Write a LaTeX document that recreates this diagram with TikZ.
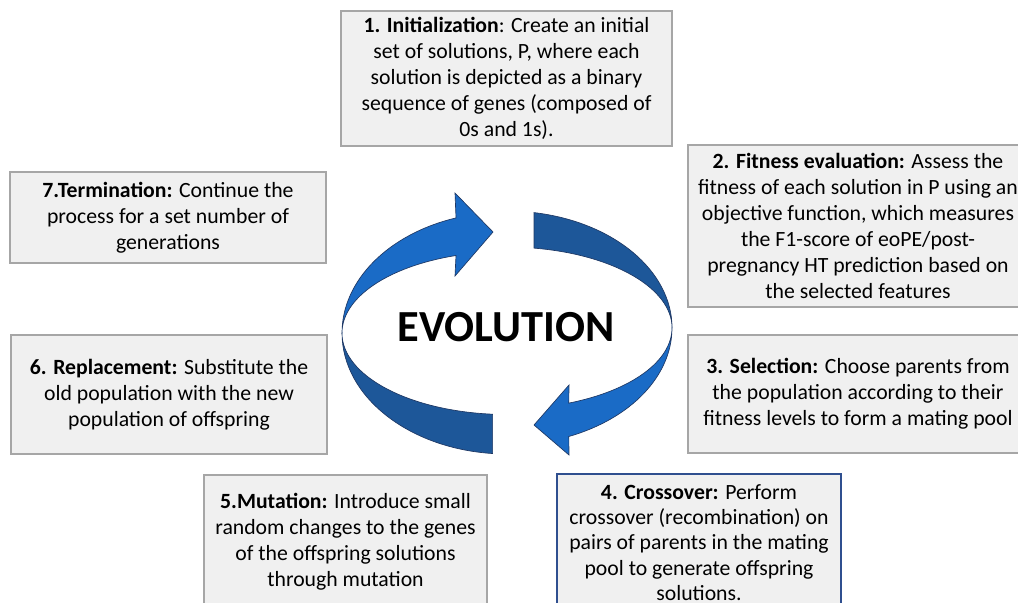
\documentclass[tikz,border=0pt]{standalone}
\usepackage{fontspec}
\setmainfont{Carlito}
\usepackage{xcolor}
\usepackage{tikz}
\definecolor{boxfill}{HTML}{F0F0F0}
\definecolor{boxline}{HTML}{A6A6A6}
\definecolor{navy}{HTML}{2F4F8F}
\definecolor{front}{HTML}{1A6BC6}
\definecolor{back}{HTML}{1D5799}
\definecolor{rim}{HTML}{1F3864}

\begin{document}
\begin{tikzpicture}[
    x=0.75pt, y=-0.75pt,
    stage/.style={draw=boxline, line width=0.9pt, fill=boxfill, align=center, inner sep=0pt, font=\fontsize{16.3}{19.6}\selectfont},
    band/.style={draw=rim, line width=0.5pt}
  ]
  \clip (0,0) rectangle (1018,603);

  \node[stage, minimum width=248.25pt, minimum height=101.25pt] (init) at (506.5,78.5)
    {\textbf{1. Initialization}: Create an initial\\set of solutions, P, where each\\solution is depicted as a binary\\sequence of genes (composed of\\0s and 1s).};
  \node[stage, minimum width=255pt, minimum height=121.5pt] (fitness) at (858,226)
    {\textbf{2. Fitness evaluation:} Assess the\\fitness of each solution in P using an\\objective function, which measures\\the F1-score of eoPE/post-\\pregnancy HT prediction based on\\the selected features};
  \node[stage, minimum width=255pt, minimum height=88.5pt] (select) at (858,394)
    {\textbf{3. Selection:} Choose parents from\\the population according to their\\fitness levels to form a mating pool};
  \node[stage, draw=navy, minimum width=213pt, minimum height=102.75pt, font=\fontsize{16.3}{18.9}\selectfont] (cross) at (699,542.5)
    {\textbf{4. Crossover:} Perform\\crossover (recombination) on\\pairs of parents in the mating\\pool to generate offspring\\solutions.};
  \node[stage, minimum width=212.25pt, minimum height=99.75pt] (mutate) at (345.5,541.5)
    {\textbf{5.Mutation:} Introduce small\\random changes to the genes\\of the offspring solutions\\through mutation};
  \node[stage, minimum width=237pt, minimum height=89.25pt] (replace) at (169,394.5)
    {\textbf{6. Replacement:} Substitute the\\old population with the new\\population of offspring};
  \node[stage, minimum width=237pt, minimum height=68.25pt] (stop) at (168,217.5)
    {\textbf{7.Termination:} Continue the\\process for a set number of\\generations};

  % twisted ribbon arrows, left half
  \draw[band, fill=back] (342,333) arc[start angle=180, end angle=95, x radius=165, y radius=121]
    -- (492.6,414.2) arc[start angle=95, end angle=180, x radius=165, y radius=81.5] -- cycle;
  \draw[band, fill=front] (342,333) arc[start angle=180, end angle=252, x radius=165, y radius=121]
    -- (455,193) -- (493,232) -- (455,276)
    -- (456,255.5) arc[start angle=252, end angle=180, x radius=165, y radius=81.5] -- cycle;

  % right half
  \draw[band, fill=back] (534,212.6) arc[start angle=279.4, end angle=360, x radius=165, y radius=117]
    arc[start angle=0, end angle=-80.6, x radius=165, y radius=81] -- cycle;
  \draw[band, fill=front] (672,328) arc[start angle=0, end angle=68, x radius=165, y radius=117]
    -- (569,455) -- (534,425) -- (569,385)
    -- (568.8,403.1) arc[start angle=68, end angle=0, x radius=165, y radius=81] -- cycle;

  \node[font=\fontsize{33.3}{40}\selectfont\bfseries] (evo) at (506,327) {EVOLUTION};
\end{tikzpicture}
\end{document}
